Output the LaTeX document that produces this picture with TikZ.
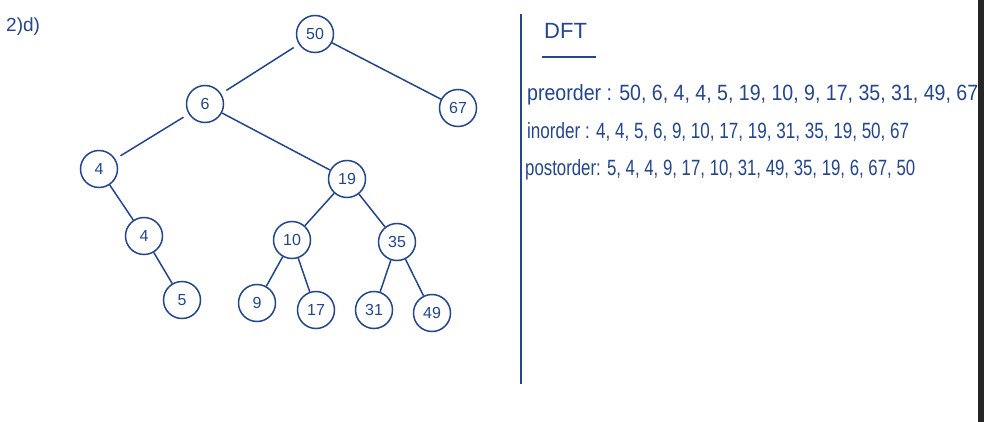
\documentclass[tikz,border=0pt]{standalone}
\usepackage{fontspec}
\setmainfont{Liberation Sans}
\usepackage{graphicx}
\definecolor{ink}{HTML}{23468F}
\begin{document}
\begin{tikzpicture}[x=1pt,y=-1pt,
  bst/.style={circle,draw=ink,line width=1.5pt,minimum size=37pt,inner sep=0pt,text=ink,font=\fontsize{16}{16}\selectfont},
  edge/.style={draw=ink,line width=1.5pt},
  txt/.style={text=ink,anchor=west,inner sep=0pt}]
\useasboundingbox (0,0) rectangle (984,422);
\fill[white] (0,0) rectangle (984,422);
\fill[black!85] (978,0) rectangle (984,422);
\node[txt] (title) at (6,27) {\fontsize{19}{19}\selectfont 2)d)};
\node[bst] (n50) at (315,34) {50};
\node[bst] (n6) at (205,104) {6};
\node[bst] (n67) at (458,108) {67};
\node[bst] (n4a) at (99,169) {4};
\node[bst] (n19) at (347,179) {19};
\node[bst] (n4b) at (144,236) {4};
\node[bst] (n10) at (292,240) {10};
\node[bst] (n35) at (397,242) {35};
\node[bst] (n5) at (182,300) {5};
\node[bst] (n9) at (257,303) {9};
\node[bst] (n17) at (316,310) {17};
\node[bst] (n31) at (374,310) {31};
\node[bst] (n49) at (432,313) {49};
\draw[edge,shorten >=6pt,shorten <=6pt] (n50) -- (n6);
\draw[edge] (n50) -- (n67);
\draw[edge,shorten >=6pt,shorten <=6pt] (n6) -- (n4a);
\draw[edge] (n6) -- (n19);
\draw[edge] (n4a) -- (n4b);
\draw[edge] (n4b) -- (n5);
\draw[edge] (n19) -- (n10);
\draw[edge] (n19) -- (n35);
\draw[edge] (n10) -- (n9);
\draw[edge] (n10) -- (n17);
\draw[edge] (n35) -- (n31);
\draw[edge] (n35) -- (n49);
\coordinate (vtop) at (521,14);
\coordinate (vbot) at (521,384);
\draw[ink,line width=1.6pt] (vtop) -- (vbot);
\node[txt] (dft) at (544,31) {\fontsize{22}{22}\selectfont DFT};
\coordinate (ul1) at (542,57);
\coordinate (ul2) at (596,57);
\draw[ink,line width=1.4pt] (ul1) -- (ul2);
\node[txt] (pre) at (527,95) {\resizebox{451pt}{16pt}{preorder : 50, 6, 4, 4, 5,\ 19, 10, 9, 17, 35, 31, 49, 67}};
\node[txt] (in) at (527,132) {\resizebox{382pt}{16pt}{inorder : 4, 4, 5, 6, 9, 10, 17, 19, 31, 35, 19, 50, 67}};
\node[txt] (post) at (525,170) {\resizebox{390pt}{16pt}{postorder: 5, 4, 4, 9, 17, 10, 31, 49, 35, 19, 6, 67, 50}};
\end{tikzpicture}
\end{document}
